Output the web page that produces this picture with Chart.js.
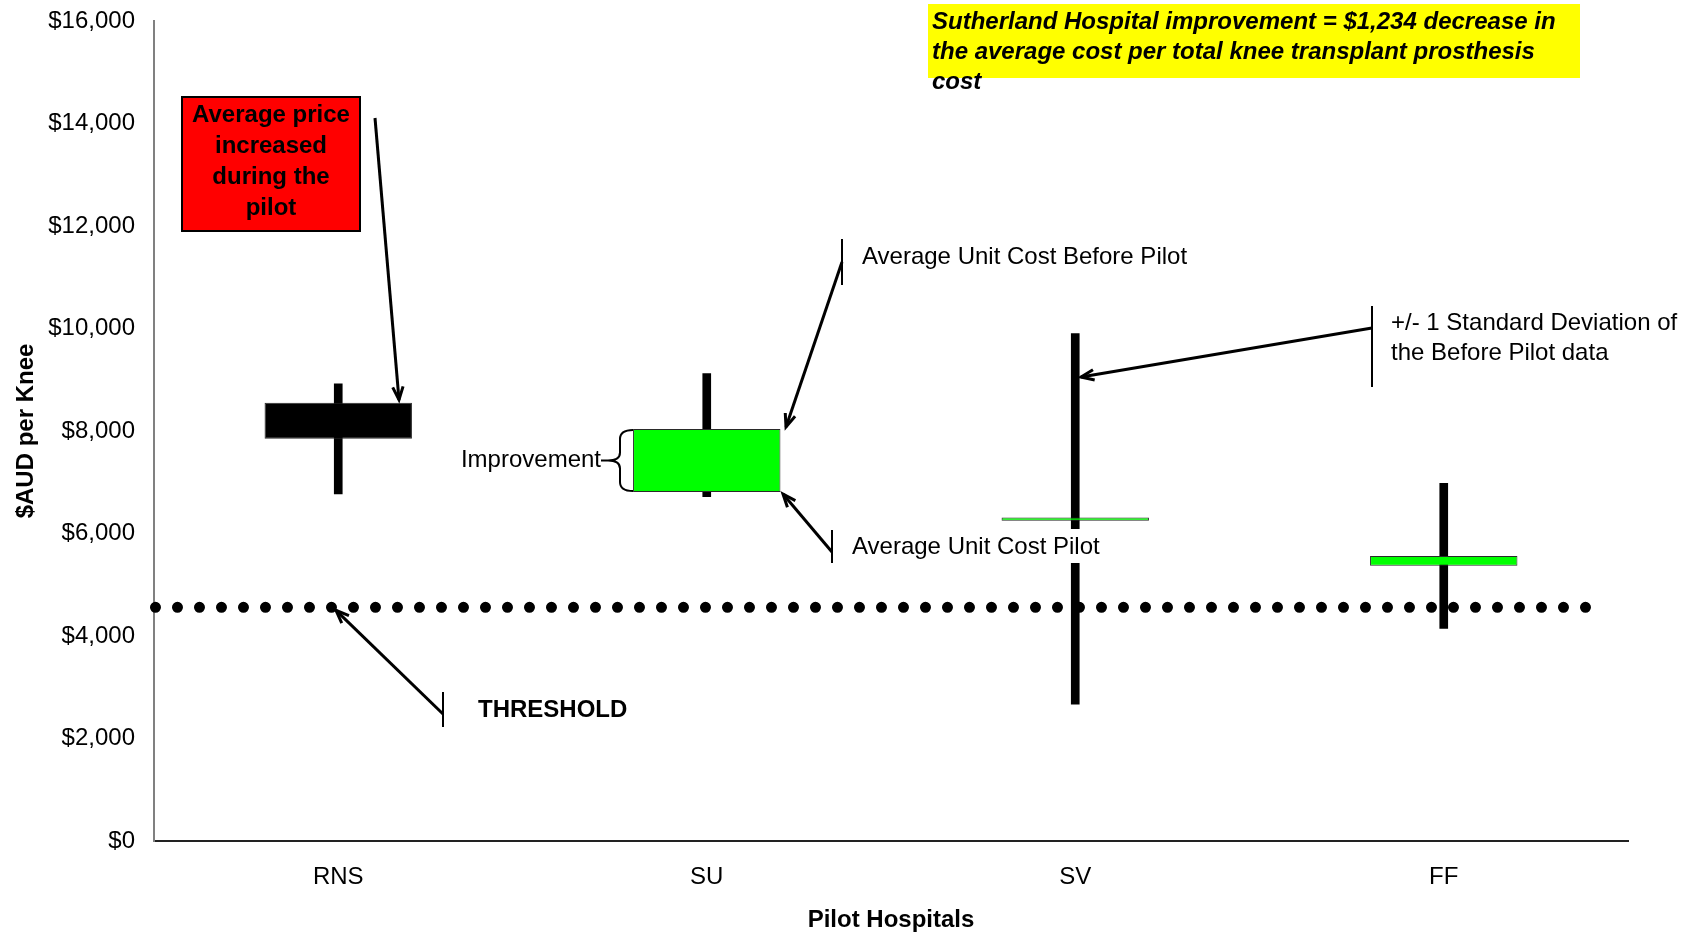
<!DOCTYPE html>
<html>
<head>
<meta charset="utf-8">
<title>Pilot Hospitals - $AUD per Knee</title>
<script src="https://cdn.jsdelivr.net/npm/chart.js@4.4.1/dist/chart.umd.min.js"></script>
<style>
  html, body { margin: 0; padding: 0; background: #ffffff; }
  #wrap { position: relative; width: 1694px; height: 932px; }
</style>
</head>
<body>
<div id="wrap"><canvas id="kneeChart"></canvas></div>
<script>
// values
const hospitals = ['RNS', 'SU', 'SV', 'FF'];
const avgBeforePilot = [7850, 8040, 6310, 5560];
const avgPilot = [8550, 6810, 6250, 5370];
const sdLow = [6770, 6720, 2670, 4150];
const sdHigh = [8920, 9120, 9900, 6980];
const threshold = 4560;
const thresholdSpan = [-0.496, 3.385]; // in category index units
const yTickValues = [0, 2000, 4000, 6000, 8000, 10000, 12000, 14000, 16000];

const FONT = '"Liberation Sans", Arial, sans-serif';

const boxColors = hospitals.map((h, i) => avgPilot[i] > avgBeforePilot[i] ? '#000000' : '#00ff00');

function arrow(ctx, x1, y1, x2, y2) {
  ctx.beginPath();
  ctx.moveTo(x1, y1);
  ctx.lineTo(x2, y2);
  ctx.stroke();
  const a = Math.atan2(y2 - y1, x2 - x1), h = 14;
  ctx.beginPath();
  ctx.moveTo(x2 - h * Math.cos(a - 0.38), y2 - h * Math.sin(a - 0.38));
  ctx.lineTo(x2, y2);
  ctx.lineTo(x2 - h * Math.cos(a + 0.38), y2 - h * Math.sin(a + 0.38));
  ctx.stroke();
}

function tick(ctx, x, y1, y2) {
  ctx.save();
  ctx.lineWidth = 2;
  ctx.beginPath();
  ctx.moveTo(x, y1);
  ctx.lineTo(x, y2);
  ctx.stroke();
  ctx.restore();
}

const notes = {
  id: 'notes',
  afterDraw(chart) {
    const ctx = chart.ctx;
    const y = chart.scales.y;
    ctx.save();
    ctx.strokeStyle = '#000';
    ctx.fillStyle = '#000';
    ctx.lineCap = 'butt';

    // yellow headline box
    ctx.fillStyle = '#ffff00';
    ctx.fillRect(928, 4, 652, 74);
    ctx.fillStyle = '#000';
    ctx.font = 'italic bold 24px ' + FONT;
    ctx.textAlign = 'left';
    ctx.textBaseline = 'middle';
    ctx.fillText('Sutherland Hospital improvement = $1,234 decrease in', 932, 22);
    ctx.fillText('the average cost per total knee transplant prosthesis', 932, 52);
    ctx.fillText('cost', 932, 82);

    // red box
    ctx.fillStyle = '#ff0000';
    ctx.fillRect(182, 97, 178, 134);
    ctx.lineWidth = 2;
    ctx.strokeRect(182, 97, 178, 134);
    ctx.fillStyle = '#000';
    ctx.font = 'bold 24px ' + FONT;
    ctx.textAlign = 'center';
    ['Average price', 'increased', 'during the', 'pilot'].forEach((t, i) => ctx.fillText(t, 271, 115 + i * 31));
    ctx.lineWidth = 3;
    arrow(ctx, 375, 118, 399, y.getPixelForValue(avgPilot[0]) - 3);

    // improvement brace on SU
    const top = y.getPixelForValue(avgBeforePilot[1]);
    const bot = y.getPixelForValue(avgPilot[1]);
    const mid = (top + bot) / 2;
    ctx.lineWidth = 2;
    ctx.beginPath();
    ctx.moveTo(633, top + 1);
    ctx.quadraticCurveTo(620, top + 1, 620, top + 10);
    ctx.lineTo(620, mid - 8);
    ctx.quadraticCurveTo(620, mid, 608, mid);
    ctx.quadraticCurveTo(620, mid, 620, mid + 8);
    ctx.lineTo(620, bot - 10);
    ctx.quadraticCurveTo(620, bot - 1, 633, bot - 1);
    ctx.moveTo(608, mid);
    ctx.lineTo(601, mid);
    ctx.stroke();
    ctx.font = '24px ' + FONT;
    ctx.textAlign = 'right';
    ctx.fillText('Improvement', 601, mid);

    ctx.textAlign = 'left';
    // Average Unit Cost Before Pilot
    ctx.fillStyle = '#fff';
    ctx.fillRect(836, 234, 364, 54);
    ctx.fillStyle = '#000';
    tick(ctx, 842, 239, 285);
    ctx.fillText('Average Unit Cost Before Pilot', 862, 257);
    ctx.lineWidth = 3;
    arrow(ctx, 842, 262, 786, top - 2);

    // Average Unit Cost Pilot (white box hides part of the SV whisker)
    ctx.fillStyle = '#fff';
    ctx.fillRect(826, 529, 288, 34);
    ctx.fillStyle = '#000';
    tick(ctx, 832, 530, 563);
    ctx.fillText('Average Unit Cost Pilot', 852, 547);
    ctx.lineWidth = 3;
    arrow(ctx, 832, 552, 783, bot + 2);

    // standard deviation note
    ctx.fillStyle = '#fff';
    ctx.fillRect(1366, 302, 320, 88);
    ctx.fillStyle = '#000';
    tick(ctx, 1372, 306, 387);
    ctx.fillText('+/- 1 Standard Deviation of', 1391, 323);
    ctx.fillText('the Before Pilot data', 1391, 353);
    ctx.lineWidth = 3;
    arrow(ctx, 1372, 328, 1081, 377);

    // threshold note
    tick(ctx, 443, 692, 727);
    ctx.font = 'bold 24px ' + FONT;
    ctx.fillText('THRESHOLD', 478, 710);
    ctx.lineWidth = 3;
    arrow(ctx, 443, 714, 336, y.getPixelForValue(threshold) + 3);

    ctx.restore();
  }
};

new Chart(document.getElementById('kneeChart'), {
  type: 'bar',
  data: {
    labels: hospitals,
    datasets: [
      {
        label: 'Before vs Pilot',
        data: hospitals.map((h, i) => [avgBeforePilot[i], avgPilot[i]]),
        backgroundColor: boxColors,
        borderColor: '#2a2a2a',
        borderWidth: 1,
        borderSkipped: false,
        barPercentage: 0.4,
        categoryPercentage: 1,
        grouped: false,
        order: 0
      },
      {
        label: '+/- 1 SD',
        data: hospitals.map((h, i) => [sdLow[i], sdHigh[i]]),
        backgroundColor: '#000000',
        borderWidth: 0,
        barThickness: 8,
        grouped: false,
        order: 1
      },
      {
        type: 'line',
        label: 'Threshold',
        xAxisID: 'xl',
        data: thresholdSpan.map(x => ({ x: x, y: threshold })),
        borderColor: '#000000',
        borderWidth: 11,
        borderDash: [0.01, 21.99],
        borderCapStyle: 'round',
        pointRadius: 0,
        fill: false,
        clip: false,
        order: 2
      }
    ]
  },
  options: {
    responsive: true,
    maintainAspectRatio: false,
    animation: false,
    devicePixelRatio: 1,
    layout: { padding: { left: 0, right: 66, top: 21, bottom: 0 } },
    plugins: {
      legend: { display: false },
      tooltip: { enabled: false }
    },
    scales: {
      x: {
        type: 'category',
        offset: true,
        grid: { display: true, drawOnChartArea: false, drawTicks: false },
        border: { display: true, color: '#222', width: 2 },
        ticks: { color: '#000', font: { family: FONT, size: 24 }, padding: 22, maxRotation: 0 },
        title: { display: true, text: 'Pilot Hospitals', color: '#000', font: { family: FONT, size: 24, weight: 'bold' }, padding: { top: 0, bottom: -3 } },
        afterFit(scale) { scale.height = 91; scale.paddingLeft = 0; scale.paddingRight = 0; }
      },
      xl: {
        type: 'linear',
        position: 'bottom',
        display: false,
        offset: false,
        grid: { offset: false },
        min: -0.5,
        max: 3.5
      },
      y: {
        min: 0,
        max: 16000,
        afterBuildTicks(scale) { scale.ticks = yTickValues.map(v => ({ value: v })); },
        grid: { display: true, drawOnChartArea: false, drawTicks: false },
        border: { display: true, color: '#808080', width: 2 },
        ticks: {
          color: '#000',
          font: { family: FONT, size: 24 },
          padding: 19,
          callback: v => '$' + v.toLocaleString('en-US')
        },
        title: { display: true, text: '$AUD per Knee', color: '#000', font: { family: FONT, size: 24, weight: 'bold' }, padding: { top: 12, bottom: 0 } },
        afterFit(scale) { scale.width = 154; scale.paddingTop = 0; scale.paddingBottom = 0; }
      }
    }
  },
  plugins: [notes]
});
</script>
</body>
</html>
